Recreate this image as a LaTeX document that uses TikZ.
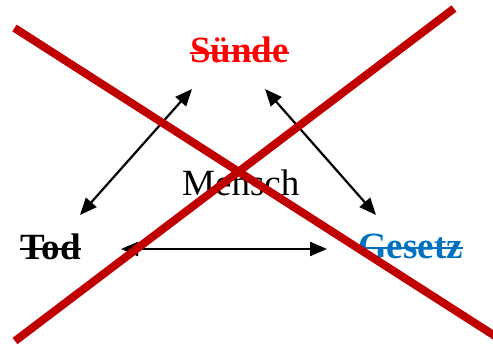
\documentclass[tikz,border=0pt]{standalone}
\usepackage{fontspec}
\setmainfont{Liberation Serif}
\usetikzlibrary{arrows.meta}
\definecolor{xred}{HTML}{C00000}
\definecolor{sred}{HTML}{FF0000}
\definecolor{gblue}{HTML}{0070C0}
\tikzset{
  word/.style={inner sep=0pt, anchor=base west, font=\fontsize{37}{40}\selectfont\bfseries},
  plain/.style={inner sep=0pt, anchor=base west, font=\fontsize{37}{40}\selectfont},
  link/.style={line width=2.2pt, {Triangle[length=17pt,width=14pt]}-{Triangle[length=17pt,width=14pt]}},
  cross/.style={line width=8pt, draw=xred}
}
\begin{document}
\begin{tikzpicture}[x=1pt,y=-1pt]
\useasboundingbox (0,0) rectangle (493,345);
\node[word, text=sred] (s) at (190,63) {Sünde};
\node[word, text=black] (t) at (20,259) {Tod};
\node[word, text=gblue] (g) at (358,258) {Gesetz};
\node[plain] (m) at (182,195) {Mensch};
\draw[sred, line width=1.6pt] ([yshift=10pt]s.base west) -- ([yshift=10pt]s.base east);
\draw[black, line width=1.6pt] ([yshift=10pt]t.base west) -- ([yshift=10pt]t.base east);
\draw[gblue, line width=1.6pt] ([yshift=10pt]g.base west) -- ([yshift=10pt]g.base east);
\coordinate (a1) at (80,215);
\coordinate (a2) at (192,89);
\coordinate (b1) at (265,89);
\coordinate (b2) at (376,215);
\coordinate (c1) at (121,249);
\coordinate (c2) at (327,249);
\draw[link] (a1) -- (a2);
\draw[link] (b1) -- (b2);
\draw[link] (c1) -- (c2);
\coordinate (x1) at (14.5,28);
\coordinate (x2) at (495,336);
\coordinate (y1) at (15,341);
\coordinate (y2) at (454,8.5);
\draw[cross] (x1) -- (x2);
\draw[cross] (y1) -- (y2);
\end{tikzpicture}
\end{document}
